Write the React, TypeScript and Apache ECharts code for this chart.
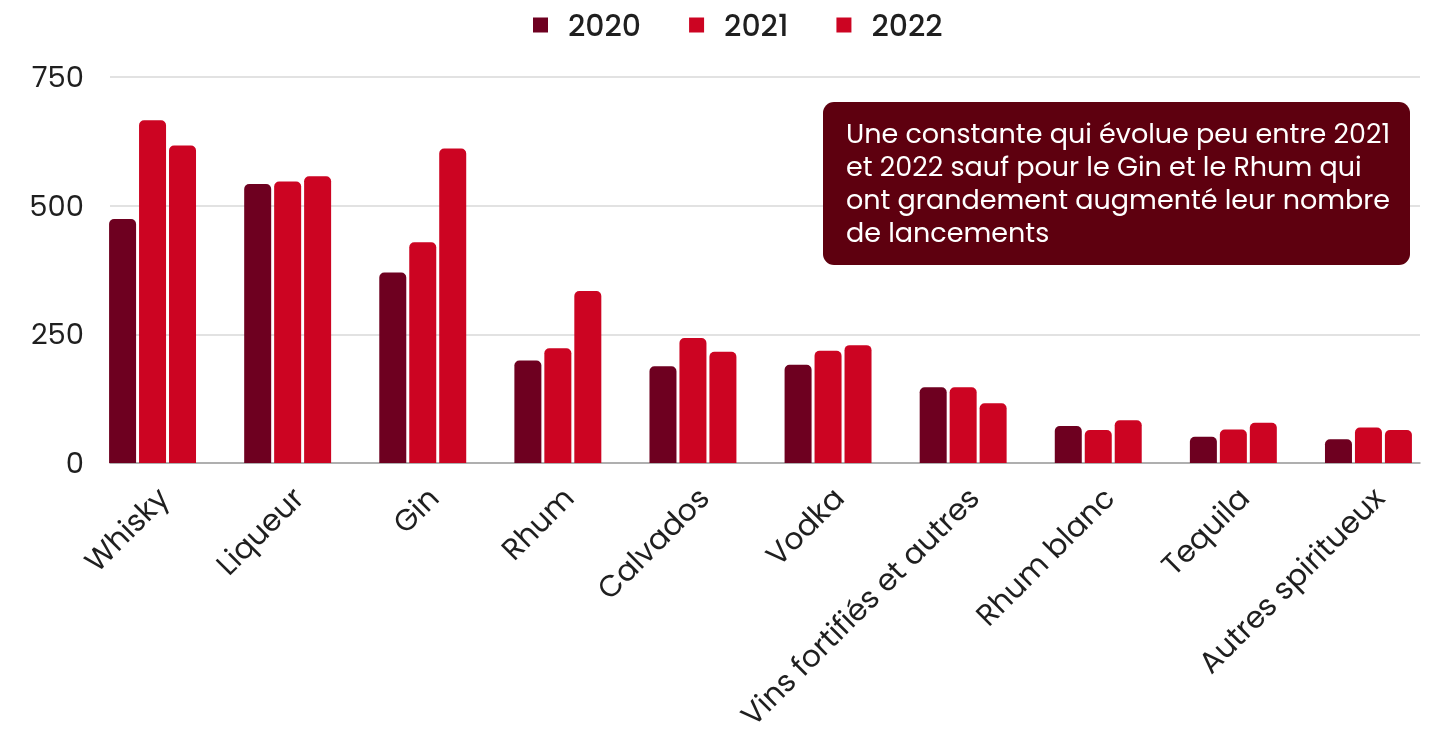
import React, { useEffect, useRef } from "react";
import * as echarts from "echarts";

const categories = ["Whisky", "Liqueur", "Gin", "Rhum", "Calvados", "Vodka", "Vins fortifiés et autres", "Rhum blanc", "Tequila", "Autres spiritueux"];
const series2020 = [474, 542, 370, 199, 188, 191, 147, 72, 51, 46];
const series2021 = [666, 547, 429, 223, 243, 218, 147, 64, 65, 69];
const series2022 = [617, 557, 611, 334, 216, 229, 116, 83, 78, 64];
const yTicks = [0, 250, 500, 750];
const annotationLines = [
  "Une constante qui évolue peu entre 2021",
  "et 2022 sauf pour le Gin et le Rhum qui",
  "ont grandement augmenté leur nombre",
  "de lancements",
];

const FONT = "Poppins, Inter, 'Noto Sans', sans-serif";
const C2020 = "#6e0020";
const C2021 = "#cc0422";

export default function App() {
  const ref = useRef<HTMLDivElement>(null);
  useEffect(() => {
    if (!ref.current) return;
    const chart = echarts.init(ref.current, undefined, { renderer: "svg" });
    const barStyle = (c: string) => ({ color: c, borderRadius: [5, 5, 0, 0] });
    chart.setOption({
      animation: false,
      textStyle: { fontFamily: FONT },
      legend: {
        top: 5,
        left: 528,
        itemWidth: 15,
        itemHeight: 15,
        itemGap: 48,
        icon: "rect",
        textStyle: { fontSize: 30, lineHeight: 30, fontWeight: 500, color: "#1f1f1f", fontFamily: FONT, padding: [0, 0, 0, 15] },
        data: ["2020", "2021", "2022"],
      },
      grid: [
        { left: 110, right: 16, top: 77, bottom: 270 },
        { left: 85, width: 1360, top: 77, bottom: 270 },
      ],
      xAxis: [
        {
          gridIndex: 0,
          type: "category",
          data: categories,
          axisLine: { lineStyle: { color: "#9e9e9e", width: 1.5 } },
          axisTick: { show: false },
          axisLabel: { show: false },
        },
        {
          gridIndex: 1,
          type: "category",
          data: categories,
          axisLine: { show: false },
          axisTick: { show: false },
          axisLabel: {
            rotate: 45,
            interval: 0,
            fontSize: 30,
            color: "#1f1f1f",
            fontFamily: FONT,
            margin: 19,
            verticalAlign: "top",
          },
        },
      ],
      yAxis: [
        {
          gridIndex: 0,
          type: "value",
          min: yTicks[0],
          max: yTicks[yTicks.length - 1],
          interval: 250,
          axisLine: { show: false },
          axisTick: { show: false },
          splitLine: { lineStyle: { color: "#d9d9d9", width: 1.5 } },
          axisLabel: { fontSize: 29, color: "#1f1f1f", fontFamily: FONT, margin: 26 },
        },
        {
          gridIndex: 1,
          type: "value",
          min: yTicks[0],
          max: yTicks[yTicks.length - 1],
          interval: 250,
          show: false,
          splitLine: { show: false },
        },
      ],
      series: [
        { name: "2020", type: "bar", xAxisIndex: 1, yAxisIndex: 1, data: series2020, barWidth: 27, barGap: "11%", itemStyle: barStyle(C2020) },
        { name: "2021", type: "bar", xAxisIndex: 1, yAxisIndex: 1, data: series2021, barWidth: 27, barGap: "11%", itemStyle: barStyle(C2021) },
        { name: "2022", type: "bar", xAxisIndex: 1, yAxisIndex: 1, data: series2022, barWidth: 27, barGap: "11%", itemStyle: barStyle(C2021) },
      ],
      graphic: [
        {
          type: "group",
          left: 823,
          top: 102,
          z: 100,
          children: [
            {
              type: "rect",
              z: 100,
              shape: { x: 0, y: 0, width: 587, height: 163, r: 11 },
              style: { fill: "#5e000f" },
            },
            {
              type: "text",
              z: 101,
              x: 23,
              y: 15,
              style: { text: annotationLines.join("\n"), fill: "#ffffff", fontSize: 27, lineHeight: 33, fontFamily: FONT, fontWeight: 400 },
            },
          ],
        },
      ],
    });
    return () => chart.dispose();
  }, []);
  return <div ref={ref} style={{ position: "fixed", left: 0, top: 0, width: 1436, height: 733 }} />;
}
